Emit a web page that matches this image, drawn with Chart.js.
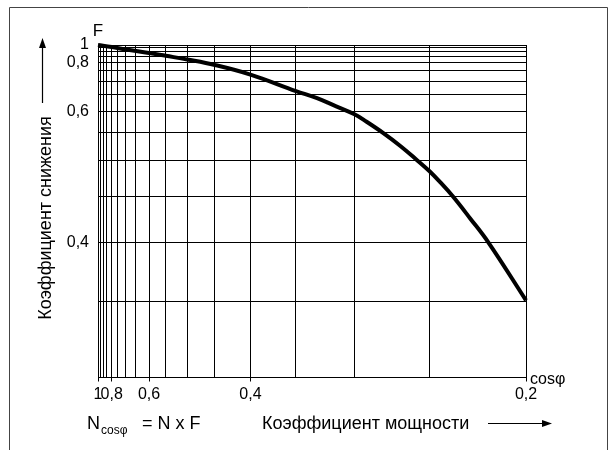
<!DOCTYPE html>
<html>
<head>
<meta charset="utf-8">
<script src="https://cdn.jsdelivr.net/npm/chart.js@4/dist/chart.umd.min.js"></script>
<style>
  html, body { margin: 0; padding: 0; background: #fff; }
  #wrap { width: 613px; height: 450px; position: relative; }
</style>
</head>
<body>
<div id="wrap"><canvas id="chart"></canvas></div>
<script>
// derating curve: power factor cos(phi) and reduction factor F
const cosPhi = [1, 0.8, 0.7, 0.6, 0.55, 0.5, 0.45, 0.4, 0.35, 0.3305, 0.317, 0.3, 0.291, 0.2795, 0.268, 0.2575, 0.25, 0.244, 0.237, 0.2275, 0.218, 0.2];
const factorF = [1, 0.965, 0.928, 0.886, 0.857, 0.825, 0.785, 0.73, 0.661, 0.637, 0.617, 0.592, 0.574, 0.55, 0.525, 0.501, 0.484, 0.469, 0.451, 0.425, 0.4, 0.351];

// grid lines (every 0,05 on both axes)
const xGrid = [1, 0.95, 0.9, 0.85, 0.8, 0.75, 0.7, 0.65, 0.6, 0.55, 0.5, 0.45, 0.4, 0.35, 0.3, 0.25, 0.2];
const yGrid = [1, 0.95, 0.9, 0.85, 0.8, 0.75, 0.7, 0.65, 0.6, 0.55, 0.5, 0.45, 0.4, 0.35, 0.3];

// labelled ticks
const xTickValues = [1, 0.8, 0.6, 0.4, 0.2];
const xTickLabels = ['1', '0,8', '0,6', '0,4', '0,2'];
const yTickValues = [1, 0.8, 0.6, 0.4];
const yTickLabels = ['1', '0,8', '0,6', '0,4'];

const yTitle = 'Коэффициент снижения';
const xTitle = 'Коэффициент мощности';

const FONT = '"Liberation Sans", Arial, sans-serif';
Chart.defaults.font.family = FONT;
Chart.defaults.color = '#000';

// both axes of this nomogram are spaced like exp(-5 * value)
const RATE = 5;
class ExpScale extends Chart.LinearScale {
  _t(v) { return Math.exp(-RATE * v); }
  getPixelForValue(value) {
    const d = (this._t(value) - this._t(this.max)) / (this._t(this.min) - this._t(this.max));
    return this.getPixelForDecimal(d);
  }
  getValueForPixel(pixel) {
    const d = this.getDecimalForPixel(pixel);
    const t = this._t(this.max) + d * (this._t(this.min) - this._t(this.max));
    return -Math.log(t) / RATE;
  }
}
ExpScale.id = 'exp';
ExpScale.defaults = Chart.LinearScale.defaults;
Chart.register(ExpScale);

function labelFor(values, labels, v) {
  const i = values.findIndex(t => Math.abs(t - v) < 1e-9);
  return i < 0 ? '' : labels[i];
}

function arrow(ctx, x1, y1, x2, y2) {
  const ang = Math.atan2(y2 - y1, x2 - x1);
  const len = 10, half = 3.5;
  ctx.beginPath();
  ctx.moveTo(x1, y1);
  ctx.lineTo(x2 - Math.cos(ang) * len, y2 - Math.sin(ang) * len);
  ctx.lineWidth = 1.2;
  ctx.stroke();
  ctx.beginPath();
  ctx.moveTo(x2, y2);
  ctx.lineTo(x2 - Math.cos(ang) * len - Math.sin(ang) * half, y2 - Math.sin(ang) * len + Math.cos(ang) * half);
  ctx.lineTo(x2 - Math.cos(ang) * len + Math.sin(ang) * half, y2 - Math.sin(ang) * len - Math.cos(ang) * half);
  ctx.closePath();
  ctx.fill();
}

// frame, axis captions, formula and arrows
const decor = {
  id: 'decor',
  afterDraw(chart) {
    const { ctx, chartArea: a } = chart;
    ctx.save();
    ctx.strokeStyle = '#444';
    ctx.lineWidth = 1;
    ctx.beginPath();
    ctx.moveTo(9.5, 460);
    ctx.lineTo(9.5, 7.5);
    ctx.lineTo(607.5, 7.5);
    ctx.lineTo(607.5, 460);
    ctx.stroke();

    ctx.fillStyle = '#000';
    ctx.strokeStyle = '#000';
    ctx.textBaseline = 'alphabetic';

    ctx.font = '17px ' + FONT;
    ctx.textAlign = 'center';
    ctx.fillText('F', a.left, 36);

    ctx.font = '16px ' + FONT;
    ctx.textAlign = 'left';
    ctx.fillText('cosφ', a.right + 4, a.bottom + 6);

    // y caption, rotated, with the arrow pointing up
    ctx.save();
    ctx.translate(46, 218);
    ctx.rotate(-Math.PI / 2);
    ctx.font = '18px ' + FONT;
    ctx.textAlign = 'center';
    ctx.textBaseline = 'middle';
    ctx.fillText(yTitle, 0, 0);
    ctx.restore();
    arrow(ctx, 42.5, 103, 42.5, 38);

    // N_cosφ = N x F
    ctx.textAlign = 'left';
    ctx.font = '18px ' + FONT;
    ctx.fillText('N', 87, 429);
    ctx.font = '12px ' + FONT;
    ctx.fillText('cosφ', 101, 434);
    ctx.font = '18px ' + FONT;
    ctx.fillText('= N x F', 142, 429);
    ctx.fillText(xTitle, 262, 429);
    arrow(ctx, 488, 423.5, 552, 423.5);
    ctx.restore();
  }
};

new Chart(document.getElementById('chart'), {
  type: 'line',
  data: {
    datasets: [{
      data: cosPhi.map((c, i) => ({ x: c, y: factorF[i] })),
      borderColor: '#000',
      borderWidth: 4,
      pointRadius: 0,
      tension: 0.4,
      borderJoinStyle: 'round',
      fill: false,
      clip: false
    }]
  },
  options: {
    responsive: true,
    maintainAspectRatio: false,
    animation: false,
    layout: { padding: { top: 45, right: 87, left: 0, bottom: 0 } },
    plugins: { legend: { display: false }, tooltip: { enabled: false } },
    scales: {
      x: {
        type: 'exp',
        min: 0.2,
        max: 1,
        afterBuildTicks: axis => { axis.ticks = xGrid.map(v => ({ value: v })); },
        afterFit: axis => { axis.height = 72.5; },
        grid: {
          color: '#000',
          lineWidth: 1,
          tickLength: 4,
          tickColor: c => labelFor(xTickValues, xTickLabels, c.tick.value) ? '#000' : 'rgba(0,0,0,0)'
        },
        border: { color: '#000', width: 1 },
        ticks: {
          autoSkip: false,
          maxRotation: 0,
          padding: 3,
          font: { size: 16 },
          callback: v => labelFor(xTickValues, xTickLabels, v)
        }
      },
      y: {
        type: 'exp',
        min: 0.3,
        max: 1,
        reverse: true,
        afterBuildTicks: axis => { axis.ticks = yGrid.map(v => ({ value: v })); },
        afterFit: axis => { axis.width = 98; },
        grid: { color: '#000', lineWidth: 1, drawTicks: false },
        border: { color: '#000', width: 1 },
        ticks: {
          autoSkip: false,
          padding: 9,
          font: { size: 16 },
          callback: v => labelFor(yTickValues, yTickLabels, v)
        }
      }
    }
  },
  plugins: [decor]
});
</script>
</body>
</html>
